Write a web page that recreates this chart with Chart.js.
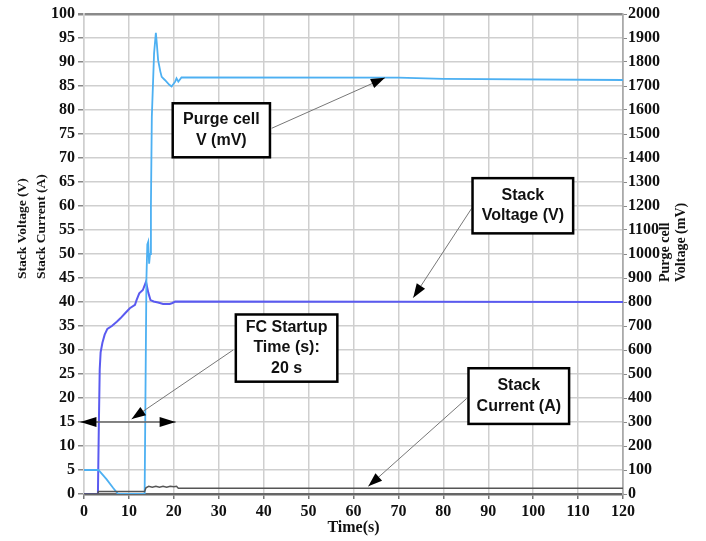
<!DOCTYPE html>
<html>
<head>
<meta charset="utf-8">
<script src="https://cdn.jsdelivr.net/npm/chart.js"></script>
<style>
  body { margin: 0; background: #fff; }
  #wrap { width: 706px; height: 541px; }
</style>
</head>
<body>
<div id="wrap"><canvas id="chart" width="706" height="541"></canvas></div>
<script>
// stack voltage (V), left axis
const timeVoltage = [0, 3.1, 3.3, 3.5, 3.7, 4.1, 4.6, 5.2, 6.2, 7.3, 8.1, 9.1, 10.2, 11.35, 11.7, 12.3, 13.1, 13.8, 14.3, 14.8, 15.5, 16.5, 17.6, 19.1, 19.7, 20.3, 120];
const stackVoltage = [0, 0, 14, 26, 29.5, 31.5, 33.2, 34.4, 35, 35.9, 36.6, 37.6, 38.7, 39.4, 40.4, 41.8, 42.5, 44.2, 42, 40.4, 40.1, 39.9, 39.6, 39.6, 39.8, 40.1, 40];

// stack current (A), left axis
const timeCurrent = [0, 3.1, 3.2, 13.5, 13.8, 14.4, 15.2, 16.0, 16.8, 17.6, 18.4, 19.2, 20.0, 20.6, 21.0, 120];
const stackCurrent = [0, 0, 0.5, 0.5, 1.3, 1.6, 1.4, 1.6, 1.4, 1.6, 1.4, 1.6, 1.5, 1.6, 1.2, 1.2];

// purge cell voltage (mV), right axis
const timePurge = [0, 3.2, 3.6, 5.0, 6.5, 7.6, 13.5, 13.9, 14.1, 14.3, 14.5, 14.7, 14.9, 15.1, 15.6, 16.0, 16.2, 16.5, 17.0, 17.3, 18.0, 19.0, 19.5, 20.3, 20.6, 21.0, 21.7, 70, 80, 120];
const purgeVoltage = [100, 100, 92, 62, 25, 0, 0, 900, 1040, 1051, 960, 1000, 1200, 1572, 1836, 1922, 1880, 1808, 1760, 1738, 1725, 1705, 1698, 1718, 1732, 1718, 1736, 1735, 1730, 1725];

const leftTitle = ['Stack Voltage (V)', 'Stack Current (A)'];
const rightTitle = ['Purge cell', 'Voltage (mV)'];

// callout boxes: [tLeft, vTop, tRight, vBottom], lines, arrow from -> to (time, left-axis value)
const callouts = [
  { box: [19.75, 81.4, 41.4, 70.15], lines: ['Purge cell', 'V (mV)'], from: [41.8, 76.2], to: [67.0, 86.7] },
  { box: [86.5, 65.8, 108.9, 54.3], lines: ['Stack', 'Voltage (V)'], from: [86.3, 59.5], to: [73.3, 40.9] },
  { box: [33.8, 37.4, 56.4, 23.4], lines: ['FC Startup', 'Time (s):', '20 s'], from: [33.2, 30.0], to: [10.6, 15.6] },
  { box: [85.6, 26.2, 108.0, 14.6], lines: ['Stack', 'Current (A)'], from: [85.2, 19.9], to: [63.3, 1.6] }
];
const startupSpan = [-0.8, 20.4, 15];

const serif = '"Liberation Serif", "Times New Roman", serif';
const sans = '"Liberation Sans", Arial, sans-serif';

function arrowHead(ctx, x0, y0, x1, y1, len, half) {
  const a = Math.atan2(y1 - y0, x1 - x0);
  ctx.beginPath();
  ctx.moveTo(x1, y1);
  ctx.lineTo(x1 - len * Math.cos(a) + half * Math.sin(a), y1 - len * Math.sin(a) - half * Math.cos(a));
  ctx.lineTo(x1 - len * Math.cos(a) - half * Math.sin(a), y1 - len * Math.sin(a) + half * Math.cos(a));
  ctx.closePath();
  ctx.fill();
}

const annotations = {
  id: 'annotations',
  afterDatasetsDraw(chart) {
    const ctx = chart.ctx;
    const xs = chart.scales.x, ys = chart.scales.y;
    const px = t => xs.getPixelForValue(t);
    const py = v => ys.getPixelForValue(v);
    ctx.save();

    // startup span double arrow
    const sx0 = px(startupSpan[0]), sx1 = px(startupSpan[1]), sy = py(startupSpan[2]);
    ctx.strokeStyle = '#666';
    ctx.lineWidth = 1.5;
    ctx.beginPath();
    ctx.moveTo(sx0, sy);
    ctx.lineTo(sx1, sy);
    ctx.stroke();
    ctx.fillStyle = '#000';
    arrowHead(ctx, sx1, sy, sx0, sy, 16, 5);
    arrowHead(ctx, sx0, sy, sx1, sy, 16, 5);

    callouts.forEach(c => {
      const fx = px(c.from[0]), fy = py(c.from[1]);
      const tx = px(c.to[0]), ty = py(c.to[1]);
      ctx.strokeStyle = '#777';
      ctx.lineWidth = 1;
      ctx.beginPath();
      ctx.moveTo(fx, fy);
      ctx.lineTo(tx, ty);
      ctx.stroke();
      ctx.fillStyle = '#000';
      arrowHead(ctx, fx, fy, tx, ty, 14, 5);

      const bx0 = px(c.box[0]), by0 = py(c.box[1]);
      const bx1 = px(c.box[2]), by1 = py(c.box[3]);
      ctx.fillStyle = '#fff';
      ctx.fillRect(bx0, by0, bx1 - bx0, by1 - by0);
      ctx.strokeStyle = '#000';
      ctx.lineWidth = 2.5;
      ctx.strokeRect(bx0, by0, bx1 - bx0, by1 - by0);
      ctx.fillStyle = '#111';
      ctx.font = 'bold 16px ' + sans;
      ctx.textAlign = 'center';
      ctx.textBaseline = 'middle';
      const cx = (bx0 + bx1) / 2, cy = (by0 + by1) / 2;
      const lh = 20.5;
      c.lines.forEach((s, i) => {
        ctx.fillText(s, cx, cy + (i - (c.lines.length - 1) / 2) * lh);
      });
    });

    // vertical axis titles (both read bottom-to-top)
    ctx.fillStyle = '#111';
    ctx.textBaseline = 'middle';
    ctx.textAlign = 'left';
    ctx.font = 'bold 13.5px ' + serif;
    leftTitle.forEach((s, i) => {
      ctx.save();
      ctx.translate(23 + i * 18.5, 279);
      ctx.rotate(-Math.PI / 2);
      ctx.fillText(s, 0, 0);
      ctx.restore();
    });
    ctx.font = 'bold 14px ' + serif;
    rightTitle.forEach((s, i) => {
      ctx.save();
      ctx.translate(665 + i * 16, 282);
      ctx.rotate(-Math.PI / 2);
      ctx.fillText(s, 0, 0);
      ctx.restore();
    });
    ctx.restore();
  }
};

const toPoints = (ts, vs) => ts.map((t, i) => ({ x: t, y: vs[i] }));
const tickFont = { family: serif, size: 16, weight: 'bold' };
const plain = v => String(v);

new Chart(document.getElementById('chart'), {
  type: 'line',
  data: {
    datasets: [
      {
        label: 'Stack Current (A)',
        data: toPoints(timeCurrent, stackCurrent),
        yAxisID: 'y',
        borderColor: '#555',
        borderWidth: 1.5
      },
      {
        label: 'Purge cell V (mV)',
        data: toPoints(timePurge, purgeVoltage),
        yAxisID: 'y2',
        borderColor: '#4db0f2',
        borderWidth: 1.8
      },
      {
        label: 'Stack Voltage (V)',
        data: toPoints(timeVoltage, stackVoltage),
        yAxisID: 'y',
        borderColor: '#5a5af0',
        borderWidth: 2
      }
    ]
  },
  options: {
    responsive: false,
    animation: false,
    layout: { padding: { top: 14, left: 0, right: 0, bottom: 0 } },
    elements: { point: { radius: 0 }, line: { tension: 0 } },
    plugins: { legend: { display: false }, tooltip: { enabled: false } },
    scales: {
      x: {
        type: 'linear',
        min: 0,
        max: 120,
        afterFit: s => { s.height = 47; },
        ticks: { stepSize: 10, color: '#111', font: tickFont, padding: 3, maxRotation: 0, callback: plain },
        grid: {
          color: c => c.tick.value === 120 ? '#999' : '#cfcfcf',
          lineWidth: 1.5,
          tickLength: 5,
          tickColor: '#777'
        },
        border: { color: '#666', width: 2.5 },
        title: {
          display: true,
          text: 'Time(s)',
          color: '#111',
          font: { family: serif, size: 16, weight: 'bold' },
          padding: { top: 0, bottom: 4 }
        }
      },
      y: {
        position: 'left',
        min: 0,
        max: 100,
        afterFit: s => { s.width = 84; },
        ticks: { stepSize: 5, color: '#111', font: tickFont, padding: 3, callback: plain },
        grid: {
          color: c => c.tick.value === 100 ? '#8a8a8a' : '#cfcfcf',
          lineWidth: c => c.tick.value === 100 ? 2.5 : 1.5,
          tickLength: 6,
          tickColor: '#888'
        },
        border: { color: '#cfcfcf', width: 1.5 }
      },
      y2: {
        position: 'right',
        min: 0,
        max: 2000,
        afterFit: s => { s.width = 83; },
        ticks: { stepSize: 100, color: '#111', font: tickFont, padding: 1, callback: plain },
        grid: { drawOnChartArea: false, tickLength: 4, tickColor: '#888' },
        border: { color: '#aaa', width: 1.5 }
      }
    }
  },
  plugins: [annotations]
});
</script>
</body>
</html>
